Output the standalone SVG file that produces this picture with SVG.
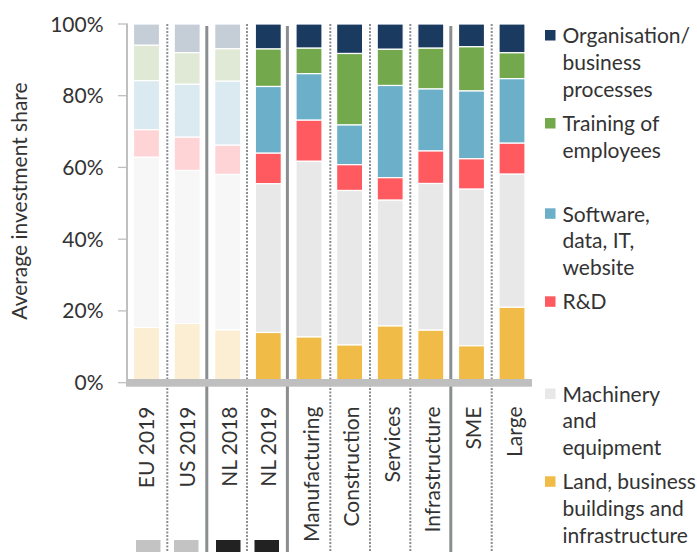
<svg xmlns="http://www.w3.org/2000/svg" width="697" height="552" viewBox="0 0 697 552">
<style>
text{font-family:Lato,"Open Sans","Liberation Sans",sans-serif;font-size:21px;fill:#333}
.seg{stroke:#fff;stroke-width:1.2}
.org{fill:#1b3a5f}.trn{fill:#74a84d}.sw{fill:#6cafc8}.rd{fill:#fe5a5f}.mach{fill:#e8e8e8}.land{fill:#f0bc47}
.forg{fill:#c5cdd6}.ftrn{fill:#dfe9d5}.fsw{fill:#dbe9f1}.frd{fill:#ffd4d6}.fmach{fill:#f7f7f7}.fland{fill:#fbeed3}
.solid{stroke:#8b8e91;stroke-width:3}
.dot{stroke:#8b8e91;stroke-width:2;stroke-dasharray:2 1.5}
.axis{stroke:#bfbfbf}
.tick{text-anchor:end}
.xl{text-anchor:end}
</style>

<g id="y-axis">
<line class="axis" x1="127" y1="23.5" x2="127" y2="386" stroke-width="2"/>
<g class="axis" stroke-width="1.3">
<line x1="118" y1="24" x2="127" y2="24"/>
<line x1="118" y1="95.7" x2="127" y2="95.7"/>
<line x1="118" y1="167.4" x2="127" y2="167.4"/>
<line x1="118" y1="239.2" x2="127" y2="239.2"/>
<line x1="118" y1="310.9" x2="127" y2="310.9"/>
<line x1="118" y1="382.7" x2="127" y2="382.7"/>
</g>
<text class="tick" x="103.5" y="31.5">100%</text>
<text class="tick" x="103.5" y="103.2">80%</text>
<text class="tick" x="103.5" y="174.9">60%</text>
<text class="tick" x="103.5" y="246.7">40%</text>
<text class="tick" x="103.5" y="318.4">20%</text>
<text class="tick" x="103.5" y="390.2">0%</text>
<text transform="translate(26.5,201) rotate(-90)" text-anchor="middle">Average investment share</text>
</g>

<g id="separators">
<line class="dot" x1="167.3" y1="24" x2="167.3" y2="552"/>
<line class="solid" x1="206.8" y1="26" x2="206.8" y2="552"/>
<line class="dot" x1="247" y1="24" x2="247" y2="552"/>
<line class="solid" x1="287.4" y1="26" x2="287.4" y2="552"/>
<line class="dot" x1="330.3" y1="24" x2="330.3" y2="552"/>
<line class="dot" x1="370" y1="24" x2="370" y2="552"/>
<line class="dot" x1="410.3" y1="24" x2="410.3" y2="552"/>
<line class="solid" x1="450.8" y1="26" x2="450.8" y2="552"/>
<line class="dot" x1="491.7" y1="24" x2="491.7" y2="552"/>
</g>

<g id="bar-eu2019">
<rect class="seg forg" x="133.5" y="24" width="26" height="21.3"/>
<rect class="seg ftrn" x="133.5" y="45.3" width="26" height="35.4"/>
<rect class="seg fsw" x="133.5" y="80.7" width="26" height="49"/>
<rect class="seg frd" x="133.5" y="129.7" width="26" height="27.6"/>
<rect class="seg fmach" x="133.5" y="157.3" width="26" height="170.2"/>
<rect class="seg fland" x="133.5" y="327.5" width="26" height="55.2"/>
</g>
<g id="bar-us2019">
<rect class="seg forg" x="174.2" y="24" width="26" height="28.7"/>
<rect class="seg ftrn" x="174.2" y="52.7" width="26" height="31.6"/>
<rect class="seg fsw" x="174.2" y="84.3" width="26" height="52.9"/>
<rect class="seg frd" x="174.2" y="137.2" width="26" height="33.3"/>
<rect class="seg fmach" x="174.2" y="170.5" width="26" height="153"/>
<rect class="seg fland" x="174.2" y="323.5" width="26" height="59.2"/>
</g>
<g id="bar-nl2018">
<rect class="seg forg" x="214.7" y="24" width="26" height="24.8"/>
<rect class="seg ftrn" x="214.7" y="48.8" width="26" height="32.4"/>
<rect class="seg fsw" x="214.7" y="81.2" width="26" height="64"/>
<rect class="seg frd" x="214.7" y="145.2" width="26" height="29.3"/>
<rect class="seg fmach" x="214.7" y="174.5" width="26" height="155.5"/>
<rect class="seg fland" x="214.7" y="330" width="26" height="52.7"/>
</g>
<g id="bar-nl2019">
<rect class="seg org" x="255.3" y="24" width="26" height="25"/>
<rect class="seg trn" x="255.3" y="49" width="26" height="37.5"/>
<rect class="seg sw" x="255.3" y="86.5" width="26" height="66.7"/>
<rect class="seg rd" x="255.3" y="153.2" width="26" height="30.6"/>
<rect class="seg mach" x="255.3" y="183.8" width="26" height="148.7"/>
<rect class="seg land" x="255.3" y="332.5" width="26" height="50.2"/>
</g>
<g id="bar-manufacturing">
<rect class="seg org" x="296" y="24" width="26" height="24.2"/>
<rect class="seg trn" x="296" y="48.2" width="26" height="25.5"/>
<rect class="seg sw" x="296" y="73.7" width="26" height="46.5"/>
<rect class="seg rd" x="296" y="120.2" width="26" height="41.1"/>
<rect class="seg mach" x="296" y="161.3" width="26" height="175.7"/>
<rect class="seg land" x="296" y="337" width="26" height="45.7"/>
</g>
<g id="bar-construction">
<rect class="seg org" x="336.6" y="24" width="26" height="29.5"/>
<rect class="seg trn" x="336.6" y="53.5" width="26" height="71.5"/>
<rect class="seg sw" x="336.6" y="125" width="26" height="39.7"/>
<rect class="seg rd" x="336.6" y="164.7" width="26" height="25.8"/>
<rect class="seg mach" x="336.6" y="190.5" width="26" height="154.5"/>
<rect class="seg land" x="336.6" y="345" width="26" height="37.7"/>
</g>
<g id="bar-services">
<rect class="seg org" x="377.2" y="24" width="26" height="25.3"/>
<rect class="seg trn" x="377.2" y="49.3" width="26" height="36.2"/>
<rect class="seg sw" x="377.2" y="85.5" width="26" height="92.2"/>
<rect class="seg rd" x="377.2" y="177.7" width="26" height="22.5"/>
<rect class="seg mach" x="377.2" y="200.2" width="26" height="125.8"/>
<rect class="seg land" x="377.2" y="326" width="26" height="56.7"/>
</g>
<g id="bar-infrastructure">
<rect class="seg org" x="417.8" y="24" width="26" height="24.2"/>
<rect class="seg trn" x="417.8" y="48.2" width="26" height="40.8"/>
<rect class="seg sw" x="417.8" y="89" width="26" height="62"/>
<rect class="seg rd" x="417.8" y="151" width="26" height="32.5"/>
<rect class="seg mach" x="417.8" y="183.5" width="26" height="146.7"/>
<rect class="seg land" x="417.8" y="330.2" width="26" height="52.5"/>
</g>
<g id="bar-sme">
<rect class="seg org" x="458.5" y="24" width="26" height="22.8"/>
<rect class="seg trn" x="458.5" y="46.8" width="26" height="44.2"/>
<rect class="seg sw" x="458.5" y="91" width="26" height="67.8"/>
<rect class="seg rd" x="458.5" y="158.8" width="26" height="30.4"/>
<rect class="seg mach" x="458.5" y="189.2" width="26" height="156.6"/>
<rect class="seg land" x="458.5" y="345.8" width="26" height="36.9"/>
</g>
<g id="bar-large">
<rect class="seg org" x="499" y="24" width="26" height="28.8"/>
<rect class="seg trn" x="499" y="52.8" width="26" height="25.9"/>
<rect class="seg sw" x="499" y="78.7" width="26" height="64.5"/>
<rect class="seg rd" x="499" y="143.2" width="26" height="31"/>
<rect class="seg mach" x="499" y="174.2" width="26" height="133.1"/>
<rect class="seg land" x="499" y="307.3" width="26" height="75.4"/>
</g>

<g id="x-axis">
<rect x="126" y="379" width="406" height="7.7" fill="#bfbfbf"/>
<text class="xl" transform="translate(154,406.5) rotate(-90)">EU 2019</text>
<text class="xl" transform="translate(195,406.5) rotate(-90)">US 2019</text>
<text class="xl" transform="translate(236.5,406.5) rotate(-90)">NL 2018</text>
<text class="xl" transform="translate(276,406.5) rotate(-90)">NL 2019</text>
<text class="xl" transform="translate(318.5,406.5) rotate(-90)">Manufacturing</text>
<text class="xl" transform="translate(358.5,406.5) rotate(-90)">Construction</text>
<text class="xl" transform="translate(399.5,406.5) rotate(-90)">Services</text>
<text class="xl" transform="translate(440,406.5) rotate(-90)">Infrastructure</text>
<text class="xl" transform="translate(480.5,406.5) rotate(-90)">SME</text>
<text class="xl" transform="translate(521.5,406.5) rotate(-90)">Large</text>
<rect x="136" y="540" width="24.5" height="12" fill="#c3c3c3"/>
<rect x="174" y="540" width="24.5" height="12" fill="#c3c3c3"/>
<rect x="216" y="540" width="24.5" height="12" fill="#222"/>
<rect x="254.5" y="540" width="24.5" height="12" fill="#222"/>
</g>

<g id="legend">
<rect class="org" x="545" y="30" width="10.5" height="10.5"/>
<text x="562.5" y="43">Organisation/</text>
<text x="562.5" y="70">business</text>
<text x="562.5" y="97">processes</text>
<rect class="trn" x="545" y="118" width="10.5" height="10.5"/>
<text x="562.5" y="131">Training of</text>
<text x="562.5" y="158">employees</text>
<rect class="sw" x="545" y="208.3" width="10.5" height="10.5"/>
<text x="562.5" y="221.7">Software,</text>
<text x="562.5" y="248.3">data, IT,</text>
<text x="562.5" y="275">website</text>
<rect class="rd" x="545" y="296.3" width="10.5" height="10.5"/>
<text x="562.5" y="309.3">R&amp;D</text>
<rect class="mach" x="545" y="388.5" width="10.5" height="10.5"/>
<text x="562.5" y="401.7">Machinery</text>
<text x="562.5" y="428.3">and</text>
<text x="562.5" y="455">equipment</text>
<rect class="land" x="545" y="476.3" width="10.5" height="10.5"/>
<text x="562.5" y="489.3">Land, business</text>
<text x="562.5" y="516">buildings and</text>
<text x="562.5" y="542.7">infrastructure</text>
</g>
</svg>
